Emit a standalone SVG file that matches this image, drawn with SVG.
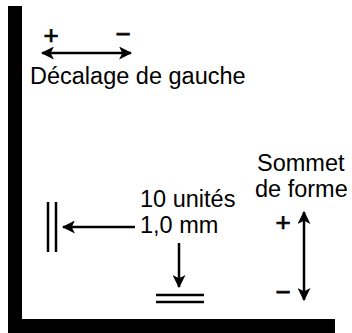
<svg xmlns="http://www.w3.org/2000/svg" width="352" height="333" viewBox="0 0 352 333">
<style>
.t{font-family:"Liberation Sans",Arial,sans-serif;font-size:23.5px;fill:#000}
.s{font-family:"Liberation Sans",Arial,sans-serif;font-size:26px;fill:#000;stroke:#000;stroke-width:0.7;text-anchor:middle}
.ln{stroke:#000;stroke-width:2.5;fill:none}
</style>
<defs>
<marker id="ah" viewBox="0 0 12 12" refX="11" refY="6" markerWidth="13" markerHeight="13" markerUnits="userSpaceOnUse" orient="auto-start-reverse">
<path d="M0,0 L12,6 L0,12 L3,6 Z" fill="#000"/>
</marker>
</defs>
<rect width="352" height="333" fill="#fff"/>
<g id="frame">
<rect x="8" y="6" width="14" height="327" fill="#000"/>
<rect x="8" y="319" width="327" height="14" fill="#000"/>
</g>
<g id="left-offset">
<text class="s" x="51" y="44">+</text>
<text class="s" x="123" y="43">−</text>
<text class="t" x="30" y="84">Décalage de gauche</text>
</g>
<g id="units">
<text class="t" x="140" y="207">10 unités</text>
<text class="t" x="140" y="233">1,0 mm</text>
</g>
<g id="vertical-bars">
<line class="ln" x1="48" y1="202" x2="48" y2="252"/>
<line class="ln" x1="56" y1="202" x2="56" y2="252"/>
</g>
<g id="horizontal-bars">
<line class="ln" x1="156" y1="295" x2="204" y2="295"/>
<line class="ln" x1="156" y1="302" x2="204" y2="302"/>
</g>
<g id="shape-top">
<text class="t" x="257" y="171">Sommet</text>
<text class="t" x="255" y="197">de forme</text>
<text class="s" x="283" y="231">+</text>
<text class="s" x="283" y="301">−</text>
</g>
<g id="connectors">
<line class="ln" x1="42" y1="53" x2="131" y2="53" marker-start="url(#ah)" marker-end="url(#ah)"/>
<line class="ln" x1="135" y1="227" x2="63" y2="227" marker-end="url(#ah)"/>
<line class="ln" x1="179" y1="243" x2="179" y2="287" marker-end="url(#ah)"/>
<line class="ln" x1="304" y1="212" x2="304" y2="300" marker-start="url(#ah)" marker-end="url(#ah)"/>
</g>
</svg>
